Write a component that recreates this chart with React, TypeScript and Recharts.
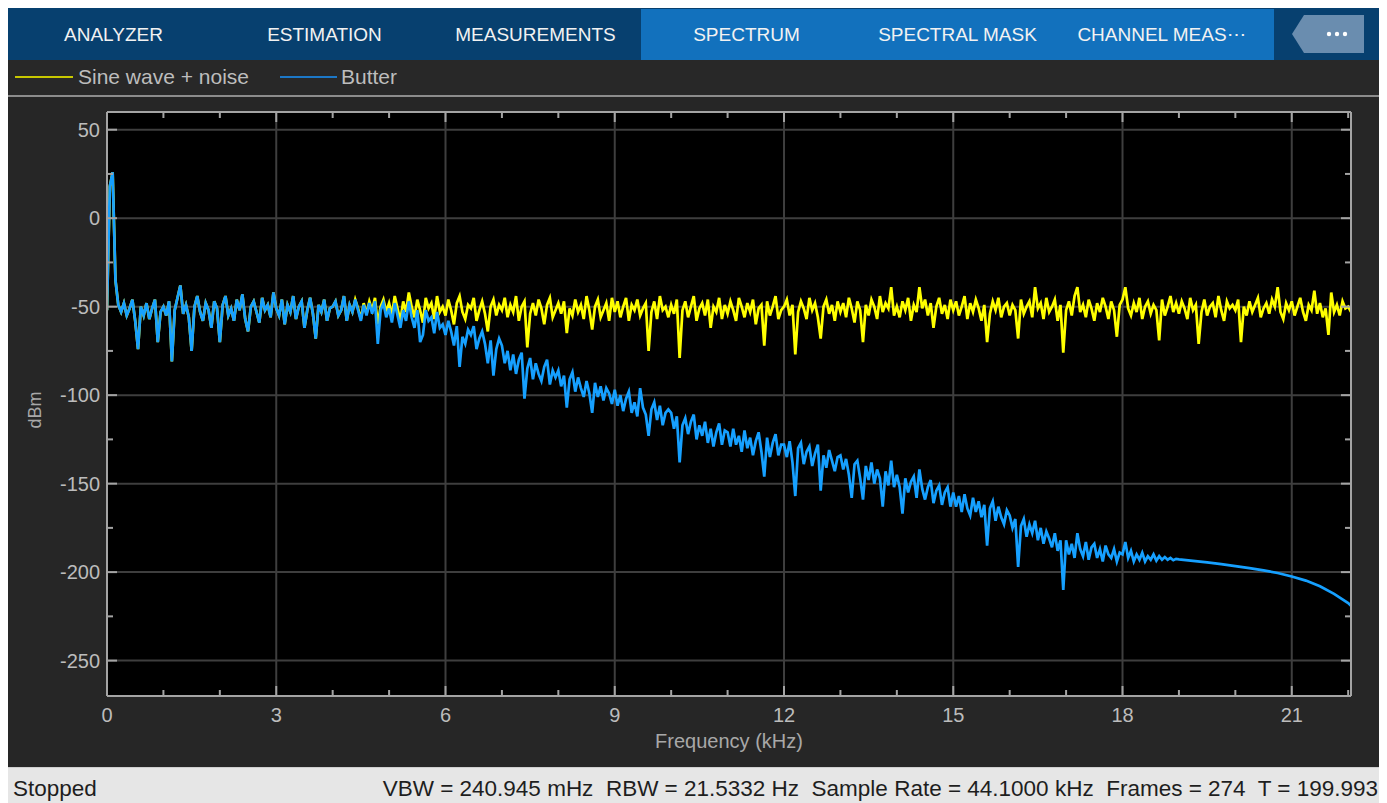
import React from 'react';
import { LineChart, Line, XAxis, YAxis, CartesianGrid } from 'recharts';

// Spectrum estimate, one value every 0.05 kHz from 0 to 22.05 kHz (dBm)
const FREQ_STEP_KHZ = 0.05;

const SINE_NOISE_DBM = [
  -52, 18, 26, -35, -49, -53, -48, -55, -51, -46, -58, -74, -50, -55, -48, -57, -51, -46, -70, -53,
  -50, -55, -47, -81, -52, -45, -38, -54, -49, -56, -75, -50, -44, -53, -58, -48, -52, -62, -47, -51,
  -70, -49, -44, -55, -51, -58, -46, -52, -43, -57, -64, -50, -47, -53, -59, -45, -52, -49, -56, -42,
  -51, -55, -46, -60, -49, -53, -44, -57, -50, -47, -62, -52, -45, -54, -68, -49, -53, -46, -58, -51,
  -50, -47, -55, -52, -44, -58, -49, -53, -46, -51, -57, -48, -54, -47, -52, -45, -60, -50, -46, -53,
  -48, -55, -44, -51, -58, -47, -53, -42, -50, -56, -46, -52, -59, -45, -51, -48, -57, -44, -53, -50,
  -55, -46, -52, -60, -48, -44, -53, -57, -49, -51, -45, -58, -52, -47, -54, -64, -50, -46, -55, -49,
  -52, -45, -56, -49, -53, -44, -58, -50, -47, -73, -54, -48, -55, -46, -51, -60, -49, -45, -56, -52,
  -48, -54, -47, -65, -51, -55, -46, -53, -49, -57, -44, -52, -63, -50, -46, -56, -52, -48, -58, -45,
  -53, -47, -56, -50, -45, -58, -49, -52, -46, -55, -51, -48, -75, -53, -47, -57, -44, -52, -50, -56,
  -49, -54, -46, -79, -52, -47, -56, -50, -44, -58, -51, -48, -55, -46, -62, -50, -53, -45, -57, -49,
  -54, -47, -52, -58, -45, -50, -56, -48, -53, -46, -60, -51, -49, -72, -47, -55, -50, -44, -57, -52,
  -50, -46, -55, -49, -77, -53, -47, -51, -57, -45, -52, -48, -56, -68, -50, -46, -54, -49, -58, -47,
  -53, -48, -56, -45, -51, -59, -47, -52, -70, -49, -55, -46, -50, -57, -44, -53, -48, -51, -39, -55,
  -50, -56, -47, -52, -45, -58, -49, -53, -39, -51, -46, -55, -48, -62, -50, -45, -54, -49, -57, -46,
  -52, -47, -55, -50, -44, -57, -48, -53, -46, -51, -58, -49, -70, -54, -47, -52, -45, -56, -50, -48,
  -55, -49, -52, -68, -46, -54, -50, -47, -56, -39, -51, -48, -57, -45, -53, -50, -46, -58, -49, -76,
  -52, -47, -55, -44, -39, -53, -49, -56, -46, -51, -58, -48, -53, -45, -50, -57, -47, -52, -67, -49,
  -46, -39, -51, -55, -48, -53, -45, -57, -50, -47, -54, -49, -52, -69, -46, -55, -50, -44, -53, -48,
  -54, -47, -51, -57, -45, -52, -49, -71, -53, -46, -55, -50, -48, -56, -44, -52, -58, -47, -51, -49,
  -52, -46, -70, -50, -55, -47, -53, -49, -45, -56, -51, -48, -54, -46, -50, -39, -53, -57, -48, -52,
  -47, -55, -50, -45, -53, -58, -49, -52, -41, -54, -48, -56, -51, -66, -42, -53, -49, -55, -47, -51,
  -50, -53,
];

// Butterworth output, noisy part: 0 .. 18.95 kHz
const BUTTER_NOISY_DBM = [
  -52, 18, 26, -35, -49, -53, -48, -55, -51, -46, -58, -74, -50, -55, -48, -57, -51, -46, -70, -53,
  -50, -55, -47, -81, -52, -45, -38, -54, -49, -56, -75, -50, -44, -53, -58, -48, -52, -62, -47, -51,
  -70, -49, -44, -55, -51, -58, -46, -52, -43, -57, -64, -50, -47, -53, -59, -45, -52, -49, -56, -42,
  -51, -55, -46, -60, -49, -53, -44, -57, -50, -47, -62, -52, -45, -54, -68, -49, -53, -46, -58, -51,
  -50, -47, -55, -52, -44, -58, -49, -53, -46, -52, -58, -49, -55, -48, -54, -47, -71, -52, -48, -56,
  -51, -59, -48, -55, -62, -52, -58, -47, -56, -62, -52, -70, -66, -52, -58, -56, -65, -53, -62, -60,
  -66, -58, -64, -72, -61, -84, -67, -71, -63, -66, -61, -74, -68, -64, -71, -82, -69, -89, -74, -68,
  -72, -82, -75, -86, -77, -88, -80, -76, -102, -85, -79, -91, -82, -88, -92, -84, -80, -94, -86, -90,
  -86, -95, -89, -107, -91, -87, -98, -90, -96, -101, -92, -99, -110, -93, -101, -95, -103, -96, -99, -105,
  -97, -106, -100, -109, -102, -98, -110, -104, -112, -96, -107, -111, -123, -108, -104, -114, -106, -117, -110, -108,
  -110, -119, -112, -138, -117, -113, -122, -115, -111, -125, -117, -123, -115, -127, -119, -129, -121, -116, -128, -120,
  -121, -129, -119, -128, -123, -132, -120, -130, -124, -134, -126, -121, -132, -146, -124, -135, -127, -122, -134, -128,
  -128, -135, -126, -138, -157, -130, -127, -139, -132, -129, -140, -133, -128, -154, -134, -141, -131, -137, -143, -135,
  -134, -142, -136, -145, -158, -139, -137, -147, -159, -140, -148, -138, -150, -142, -147, -163, -143, -151, -137, -152,
  -145, -152, -167, -147, -155, -149, -146, -158, -142, -153, -159, -152, -148, -161, -154, -151, -162, -155, -152, -163,
  -155, -163, -157, -166, -156, -164, -168, -158, -166, -160, -169, -162, -185, -164, -160, -171, -163, -169, -173, -165,
  -168, -175, -170, -197, -174, -170, -180, -173, -178, -171, -182, -175, -184, -177, -181, -186, -178, -188, -182, -210,
  -182, -190, -184, -192, -178, -187, -191, -183, -193, -186, -184, -192, -187, -194, -185, -190, -192, -187, -194, -189,
  -190, -183, -192, -188, -194, -190, -193, -189, -194, -191, -193, -190, -193.5, -191, -193, -191.5, -193, -192, -193.3, -192.5,
];

// Butterworth output, smooth roll-off above 19 kHz
const BUTTER_TAIL_KHZ = [19, 19.25, 19.5, 19.75, 20, 20.25, 20.5, 20.75, 21, 21.25, 21.5, 21.75, 22, 22.05];
const BUTTER_TAIL_DBM = [-192.8, -193.6, -194.5, -195.5, -196.6, -197.7, -199, -200.5, -202.5, -204.8, -208, -212.3, -217.5, -219];

const X_TICKS = [0, 1, 2, 3, 4, 5, 6, 7, 8, 9, 10, 11, 12, 13, 14, 15, 16, 17, 18, 19, 20, 21, 22];
const X_LABELED = [0, 3, 6, 9, 12, 15, 18, 21];
const Y_TICKS = [-250, -225, -200, -175, -150, -125, -100, -75, -50, -25, 0, 25, 50];
const Y_LABELED = [-250, -200, -150, -100, -50, 0, 50];

const TABS = ['ANALYZER', 'ESTIMATION', 'MEASUREMENTS', 'SPECTRUM', 'SPECTRAL MASK', 'CHANNEL MEAS\u22EF'];
const SERIES_NAMES = ['Sine wave + noise', 'Butter'];
const STATUS_LEFT = 'Stopped';
const STATUS_RIGHT = 'VBW = 240.945 mHz  RBW = 21.5332 Hz  Sample Rate = 44.1000 kHz  Frames = 274  T = 199.993';

const FONT = '"Liberation Sans", Arial, Helvetica, sans-serif';
const FRAME = '#a4a4a4';
const TICK_TEXT = '#bcbcbc';
const TITLE_TEXT = '#a8a8a8';
const YELLOW = '#ffff00';
const BLUE = '#16a0ff';

const rows = SINE_NOISE_DBM.map((sine, i) => {
  const f = Math.round(i * FREQ_STEP_KHZ * 100) / 100;
  let butter: number | null = null;
  if (i < BUTTER_NOISY_DBM.length) {
    butter = BUTTER_NOISY_DBM[i];
  } else {
    const k = BUTTER_TAIL_KHZ.findIndex((t) => Math.abs(t - f) < 1e-6);
    if (k >= 0) butter = BUTTER_TAIL_DBM[k];
  }
  return { f, sine, butter };
});

const isOn = (list: number[], v: number) => list.some((t) => Math.abs(t - v) < 1e-6);

const BottomTick = (props: any) => {
  const { x, y, payload } = props;
  const major = isOn(X_LABELED, payload.value);
  return (
    <g>
      <line x1={x} x2={x} y1={y} y2={y - (major ? 10 : 6)} stroke={FRAME} strokeWidth={2} />
      {major && (
        <text x={x} y={y + 26} textAnchor="middle" fill={TICK_TEXT} fontSize={20} fontFamily={FONT}>
          {payload.value}
        </text>
      )}
    </g>
  );
};

const TopTick = (props: any) => {
  const { x, y, payload } = props;
  const major = isOn(X_LABELED, payload.value);
  return <line x1={x} x2={x} y1={y} y2={y + (major ? 10 : 6)} stroke={FRAME} strokeWidth={2} />;
};

const LeftTick = (props: any) => {
  const { x, y, payload } = props;
  const major = isOn(Y_LABELED, payload.value);
  return (
    <g>
      <line x1={x} x2={x + (major ? 10 : 6)} y1={y} y2={y} stroke={FRAME} strokeWidth={2} />
      {major && (
        <text x={x - 7} y={y + 7} textAnchor="end" fill={TICK_TEXT} fontSize={20} fontFamily={FONT}>
          {payload.value}
        </text>
      )}
    </g>
  );
};

const RightTick = (props: any) => {
  const { x, y, payload } = props;
  const major = isOn(Y_LABELED, payload.value);
  return <line x1={x} x2={x - (major ? 10 : 6)} y1={y} y2={y} stroke={FRAME} strokeWidth={2} />;
};

const XTitle = (props: any) => {
  const vb = props.viewBox || {};
  return (
    <text x={vb.x + vb.width / 2} y={vb.y + 52} textAnchor="middle" fill={TITLE_TEXT} fontSize={20} fontFamily={FONT}>
      Frequency (kHz)
    </text>
  );
};

const YTitle = (props: any) => {
  const vb = props.viewBox || {};
  const cx = vb.x + 27;
  const cy = vb.y + vb.height / 2 + 6;
  return (
    <text x={cx} y={cy} transform={`rotate(-90 ${cx} ${cy})`} textAnchor="middle" dominantBaseline="central" fill={TITLE_TEXT} fontSize={18} fontFamily={FONT}>
      dBm
    </text>
  );
};

export default function App() {
  const W = 1371;
  return (
    <div style={{ position: 'relative', width: W, height: 795, fontFamily: FONT, background: '#262626' }}>
      <style>{'html,body{overflow:hidden}'}</style>
      {/* tab strip */}
      <div style={{ position: 'absolute', left: 0, top: 0, width: W, height: 52, background: '#07406f' }}>
        {TABS.map((t, i) => (
          <div
            key={t}
            style={{
              position: 'absolute',
              left: i * 211,
              top: 1,
              width: 211,
              height: 51,
              background: i >= 3 ? '#1271bd' : '#07406f',
              color: '#f2f2f2',
              fontSize: 19,
              lineHeight: '51px',
              textAlign: 'center',
              whiteSpace: 'nowrap',
              paddingRight: i === 5 ? 14 : 0,
              boxSizing: 'border-box',
            }}
          >
            {t}
          </div>
        ))}
        <svg style={{ position: 'absolute', left: 1284, top: 7 }} width={73} height={39}>
          <polygon points="0,19 12,0 72,0 72,38 12,38" fill="#6a8daf" />
          <circle cx={37} cy={19} r={2.2} fill="#ffffff" />
          <circle cx={45} cy={19} r={2.2} fill="#ffffff" />
          <circle cx={53} cy={19} r={2.2} fill="#ffffff" />
        </svg>
      </div>
      {/* legend row */}
      <div style={{ position: 'absolute', left: 0, top: 52, width: W, height: 35, background: '#282828' }}>
        <div style={{ position: 'absolute', left: 7, top: 16, width: 58, height: 2, background: '#c8c800' }} />
        <div style={{ position: 'absolute', left: 70, top: 4, fontSize: 21, color: '#bdbdbd', lineHeight: '26px' }}>
          {SERIES_NAMES[0]}
        </div>
        <div style={{ position: 'absolute', left: 272, top: 16, width: 57, height: 2, background: '#1c78c8' }} />
        <div style={{ position: 'absolute', left: 333, top: 4, fontSize: 21, color: '#bdbdbd', lineHeight: '26px' }}>
          {SERIES_NAMES[1]}
        </div>
      </div>
      <div style={{ position: 'absolute', left: 0, top: 87, width: W, height: 2, background: '#8c8c8c' }} />
      {/* spectrum plot */}
      <div style={{ position: 'absolute', left: 0, top: 89 }}>
        <LineChart width={W} height={670} data={rows} margin={{ top: 15, right: 28, bottom: 0, left: 0 }}>
          <CartesianGrid
            fill="#000000"
            fillOpacity={1}
            stroke="#3e3e3e"
            strokeWidth={2}
            horizontalValues={Y_LABELED}
            verticalValues={X_LABELED}
          />
          <XAxis
            dataKey="f"
            type="number"
            domain={[0, 22.05]}
            allowDataOverflow
            ticks={X_TICKS}
            interval={0}
            height={71}
            tickSize={0}
            tickMargin={0}
            tickLine={false}
            axisLine={{ stroke: FRAME, strokeWidth: 2 }}
            tick={<BottomTick />}
            label={<XTitle />}
          />
          <XAxis
            xAxisId="top"
            orientation="top"
            mirror
            dataKey="f"
            type="number"
            domain={[0, 22.05]}
            allowDataOverflow
            ticks={X_TICKS}
            interval={0}
            height={1}
            tickSize={0}
            tickMargin={0}
            tickLine={false}
            axisLine={{ stroke: FRAME, strokeWidth: 2 }}
            tick={<TopTick />}
          />
          <YAxis
            type="number"
            domain={[-270, 60]}
            allowDataOverflow
            ticks={Y_TICKS}
            interval={0}
            width={99}
            tickSize={0}
            tickMargin={0}
            tickLine={false}
            axisLine={{ stroke: FRAME, strokeWidth: 2 }}
            tick={<LeftTick />}
            label={<YTitle />}
          />
          <YAxis
            yAxisId="right"
            orientation="right"
            mirror
            type="number"
            domain={[-270, 60]}
            allowDataOverflow
            ticks={Y_TICKS}
            interval={0}
            width={1}
            tickSize={0}
            tickMargin={0}
            tickLine={false}
            axisLine={{ stroke: FRAME, strokeWidth: 2 }}
            tick={<RightTick />}
          />
          <Line
            dataKey="sine"
            name={SERIES_NAMES[0]}
            type="linear"
            stroke={YELLOW}
            strokeWidth={2.7}
            dot={false}
            activeDot={false}
            isAnimationActive={false}
          />
          <Line
            dataKey="butter"
            name={SERIES_NAMES[1]}
            type="linear"
            stroke={BLUE}
            strokeWidth={2.7}
            dot={false}
            activeDot={false}
            connectNulls
            isAnimationActive={false}
          />
        </LineChart>
      </div>
      {/* status bar */}
      <div
        style={{
          position: 'absolute',
          left: 0,
          top: 759,
          width: W,
          height: 36,
          background: '#e6e6e6',
          borderTop: '1px solid #cfcfcf',
          boxSizing: 'border-box',
          color: '#1e1e1e',
          fontSize: 22.5,
        }}
      >
        <div style={{ position: 'absolute', left: 5, top: 8, lineHeight: '26px' }}>{STATUS_LEFT}</div>
        <div style={{ position: 'absolute', right: 1, top: 8, lineHeight: '26px', whiteSpace: 'pre' }}>{STATUS_RIGHT}</div>
      </div>
    </div>
  );
}
